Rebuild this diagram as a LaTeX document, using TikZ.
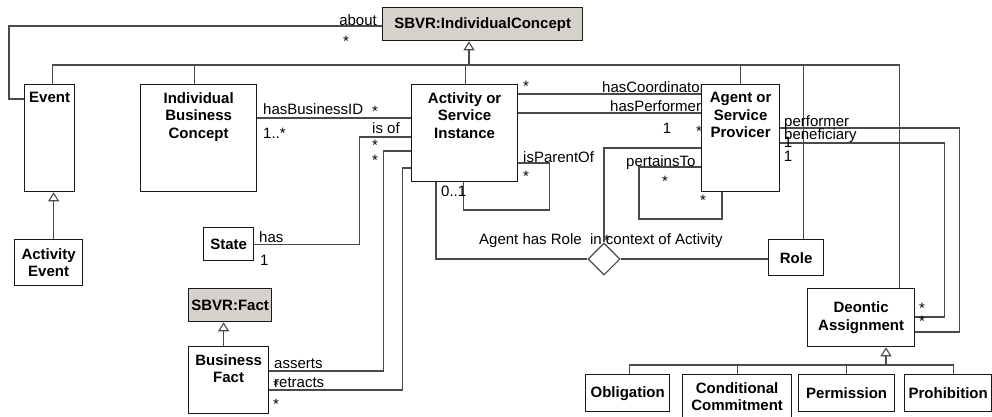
\documentclass[tikz,border=0pt]{standalone}
\usepackage{fontspec}
\setmainfont{Liberation Sans}
\usetikzlibrary{arrows.meta,shapes.geometric,backgrounds}

\definecolor{sbvrgray}{HTML}{D6D2CB}
\definecolor{linegray}{HTML}{4A4A4A}

\tikzset{
  box/.style={draw=black!90, line width=1.3pt, fill=white, inner sep=1pt},
  sbvr/.style={box, fill=sbvrgray, font=\bfseries},
  plain/.style={box, font=\bfseries, align=center},
  cls/.style={box, label={[title]north:#1}},
  title/.style={font=\bfseries, align=center, anchor=north, inner sep=0pt, yshift=-8pt},
  line/.style={draw=linegray, line width=1.1pt},
  gen/.style={line, -{Triangle[length=9pt, width=11pt, fill=white]}},
  lab/.style={inner sep=0pt, anchor=base west},
  mult/.style={inner sep=0pt, anchor=base},
}

\begin{document}
\fontsize{15}{17.5}\selectfont
\begin{tikzpicture}[x=1pt, y=-1pt]
  \useasboundingbox (0,0) rectangle (992,416);
  \clip (0,0) rectangle (992,416);

  % classes
  \node[sbvr, minimum width=200, minimum height=33, anchor=north west] (ic) at (382,7) {SBVR:IndividualConcept};
  \node[cls=Event, minimum width=50, minimum height=107, anchor=north west] (event) at (24,84) {};
  \node[plain, minimum width=68, minimum height=46, anchor=north west] (actevent) at (14,239) {Activity\\Event};
  \node[cls={Individual\\Business\\Concept}, minimum width=116, minimum height=107, anchor=north west] (ibc) at (140,84) {};
  \node[cls={Activity or\\Service\\Instance}, minimum width=106, minimum height=97, anchor=north west] (act) at (411,84) {};
  \node[cls={Agent or\\Service\\Provicer}, minimum width=78, minimum height=107, anchor=north west] (agent) at (701,84) {};
  \node[plain, minimum width=50, minimum height=33, anchor=north west] (state) at (203,227) {State};
  \node[sbvr, minimum width=83, minimum height=33, inner sep=0pt, anchor=north west] (fact) at (188,288) {SBVR:Fact};
  \node[cls={Business\\Fact}, minimum width=80, minimum height=67, anchor=north west] (bfact) at (188,346) {};
  \node[plain, minimum width=55, minimum height=36, anchor=north west] (role) at (768,239) {Role};
  \node[plain, minimum width=107, minimum height=58, anchor=north west] (deontic) at (807,288) {Deontic\\Assignment};
  \node[plain, minimum width=84, minimum height=37, anchor=north west] (oblig) at (585,374) {Obligation};
  \node[cls={Conditional\\Commitment}, minimum width=109, minimum height=50, anchor=north west] (condc) at (682,374) {};
  \node[plain, minimum width=96, minimum height=37, anchor=north west] (permis) at (798,374) {Permission};
  \node[plain, minimum width=87, minimum height=37, anchor=north west] (prohib) at (904,374) {Prohibition};
  \node[diamond, draw=linegray, line width=1.1pt, fill=white, minimum width=32, minimum height=32, inner sep=0pt] (dia) at (604,259) {};

  \begin{pgfonlayer}{background}
    % generalisation trees
    \coordinate (icbus) at (469,65);
    \draw[gen] (icbus) -- (icbus |- ic.south);
    \draw[line] ([xshift=3]event.north) |- (icbus) -| ([xshift=38.5]deontic.north);
    \foreach \n/\dx in {ibc/-4, act/1, agent/0, role/7.5}
      \draw[line] ([xshift=\dx]\n.north) -- ([xshift=\dx]\n.north |- icbus);
    \draw[gen] ([xshift=5]actevent.north) -- ([xshift=4]event.south);
    \draw[gen] ([xshift=-5]bfact.north) -- ([xshift=-6.5]fact.south);

    \coordinate (dbus) at (886,365);
    \draw[gen] (dbus) -- (dbus |- deontic.south);
    \draw[line] ([xshift=2]oblig.north) |- (dbus) -| ([xshift=5.5]prohib.north);
    \foreach \n in {condc, permis}
      \draw[line] (\n.north) -- (\n.north |- dbus);

    % associations
    \draw[line] ([yshift=-19]ic.north west) -- ++(-373,0) |- ([yshift=-15]event.north west);
    \node[lab, anchor=base east] (about) at (377,25) {about};
    \node[mult] (aboutm) at (346,46) {*};

    \draw[line] ([yshift=-34]ibc.north east) -- ([yshift=-34]act.north west);
    \node[lab] (hasbid) at (263,114) {hasBusinessID};
    \node[mult] (hasbidm) at (375,116) {*};
    \node[lab] (hasbidn) at (263,138) {1..*};

    \draw[line] (state.east) -- ++(105,0) |- ([yshift=-53]act.north west);
    \node[lab] (isof) at (372,133) {is of};
    \node[mult] (isofm) at (375,150) {*};
    \node[lab] (has) at (259,242) {has};
    \node[lab] (hasn) at (260,265) {1};

    \draw[line] ([yshift=-25]bfact.north east) -- ++(114,0) |- ([yshift=-67]act.north west);
    \draw[line] ([yshift=-44]bfact.north east) -- ++(133,0) |- ([yshift=-84]act.north west);
    \node[mult] (assertm) at (375,165) {*};
    \node[lab] (asserts) at (274,368) {asserts};
    \node[lab] (retracts) at (274,387) {retracts};
    \node[mult] (retractm) at (276,390) {*};
    \node[mult] (factm) at (276,409) {*};

    \draw[line] ([yshift=-10]act.north east) -- ([yshift=-10]agent.north west);
    \draw[line] ([yshift=-29]act.north east) -- ([yshift=-29]agent.north west);
    \node[mult] (coordm) at (526,91) {*};
    \node[lab] (hascoord) at (602,92) {hasCoordinator};
    \node[lab] (hasperf) at (610,111) {hasPerformer};
    \node[mult] (perfn) at (667,133) {1};
    \node[mult] (perfm) at (699,136) {*};

    \draw[line] ([yshift=-79]act.north east) -- ++(31,0) -- ++(0,47) -| ([xshift=-1]act.south);
    \node[lab] (parent) at (523,162) {isParentOf};
    \node[mult] (parentm) at (526,181) {*};
    \node[lab] (parentn) at (441,196) {0..1};

    \draw[line] ([yshift=-83]agent.north west) -- ++(-62,0) -- ++(0,52) -| ([xshift=21]agent.south west);
    \node[lab] (pertains) at (626,166) {pertainsTo};
    \node[mult] (pertainsm) at (665,186) {*};
    \node[mult] (pertainsn) at (703,205) {*};

    \draw[line] ([xshift=25]act.south west) |- (dia.west);
    \draw[line] (dia.east) -- (dia.east -| role.west);
    \draw[line] (dia.north) |- ([yshift=-64]agent.north west);
    \node[lab] (rolectx) at (479,244) {Agent has Role\ \ in context of Activity};
    \node[mult] (rolem) at (607,245) {*};

    \draw[line] ([yshift=-44]agent.north east) -- ++(179,0) |- ([yshift=-44]deontic.north east);
    \draw[line] ([yshift=-59]agent.north east) -- ++(164,0) |- ([yshift=-29]deontic.north east);
    \node[lab] (performer) at (784,126) {performer};
    \node[lab] (benef) at (784,139) {beneficiary};
    \node[mult] (benefn) at (788,147) {1};
    \node[mult] (performern) at (788,161) {1};
    \node[mult] (deonm) at (922,313) {*};
    \node[mult] (deonn) at (922,326) {*};
  \end{pgfonlayer}
\end{tikzpicture}
\end{document}
